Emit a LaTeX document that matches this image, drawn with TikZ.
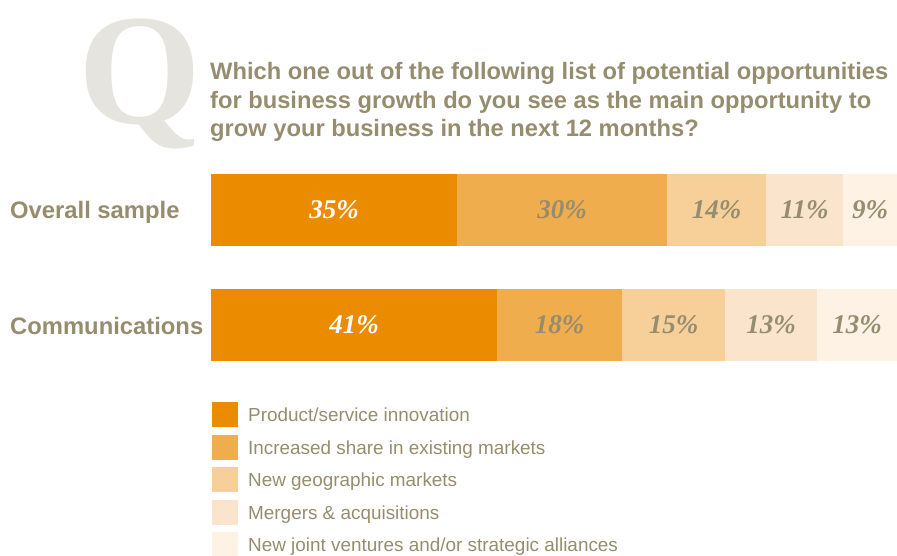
\documentclass[tikz,border=0pt]{standalone}
\usepackage{fontspec}
\setmainfont{Liberation Sans}
\newfontfamily\serifQ{Liberation Serif}
\definecolor{cA}{RGB}{235,140,0}
\definecolor{cB}{RGB}{239,173,77}
\definecolor{cC}{RGB}{247,207,152}
\definecolor{cD}{RGB}{250,229,204}
\definecolor{cE}{RGB}{253,242,228}
\definecolor{txt}{RGB}{150,140,110}
\definecolor{qgray}{RGB}{230,228,222}
\tikzset{
  seg/.style={draw=none,inner sep=0pt,outer sep=0pt,anchor=north west},
  pct/.style={font=\serifQ\bfseries\itshape\fontsize{27}{27}\selectfont,text=txt},
  pctw/.style={pct,text=white},
  rowlab/.style={anchor=base west,inner sep=0pt,font=\bfseries\fontsize{23.8}{23.8}\selectfont,text=txt},
  title/.style={anchor=base west,inner sep=0pt,font=\bfseries\fontsize{23.7}{23.7}\selectfont,text=txt},
  legbox/.style={inner sep=0pt,outer sep=0pt,minimum width=26pt,minimum height=25pt,anchor=north west},
  legtxt/.style={anchor=base west,inner sep=0pt,font=\fontsize{18.9}{18.9}\selectfont,text=txt}
}
\begin{document}
\begin{tikzpicture}[x=1pt,y=-1pt]
\useasboundingbox (0,0) rectangle (897,556);
% big Q
\node[anchor=base west,inner sep=0pt,text=qgray,font=\serifQ\bfseries\fontsize{158}{158}\selectfont] (q) at (78,124) {Q};
% title
\node[title] (t1) at (210,80) {Which one out of the following list of potential opportunities};
\node[title] (t2) at (210,108.5) {for business growth do you see as the main opportunity to};
\node[title] (t3) at (210,137) {grow your business in the next 12 months?};
% row labels
\node[rowlab] (r1) at (10,219) {Overall sample};
\node[rowlab] (r2) at (10,334) {Communications};
% bar 1
\node[seg,fill=cA,minimum width=246pt,minimum height=72pt] (a1) at (211,174) {};
\node[seg,fill=cB,minimum width=210pt,minimum height=72pt] (b1) at (457,174) {};
\node[seg,fill=cC,minimum width=99pt,minimum height=72pt] (c1) at (667,174) {};
\node[seg,fill=cD,minimum width=77pt,minimum height=72pt] (d1) at (766,174) {};
\node[seg,fill=cE,minimum width=54pt,minimum height=72pt] (e1) at (843,174) {};
\node[pctw] at (a1.center) {35\%};
\node[pct] at (b1.center) {30\%};
\node[pct] at (c1.center) {14\%};
\node[pct] at (d1.center) {11\%};
\node[pct] at (e1.center) {9\%};
% bar 2
\node[seg,fill=cA,minimum width=286pt,minimum height=72pt] (a2) at (211,289) {};
\node[seg,fill=cB,minimum width=125pt,minimum height=72pt] (b2) at (497,289) {};
\node[seg,fill=cC,minimum width=103pt,minimum height=72pt] (c2) at (622,289) {};
\node[seg,fill=cD,minimum width=92pt,minimum height=72pt] (d2) at (725,289) {};
\node[seg,fill=cE,minimum width=80pt,minimum height=72pt] (e2) at (817,289) {};
\node[pctw] at (a2.center) {41\%};
\node[pct] at (b2.center) {18\%};
\node[pct] at (c2.center) {15\%};
\node[pct] at (d2.center) {13\%};
\node[pct] at (e2.center) {13\%};
% legend
\node[legbox,fill=cA] (l1) at (212,402) {};
\node[legbox,fill=cB] (l2) at (212,434.5) {};
\node[legbox,fill=cC] (l3) at (212,467) {};
\node[legbox,fill=cD] (l4) at (212,499.5) {};
\node[legbox,fill=cE] (l5) at (212,532) {};
\node[legtxt] at (248,421.5) {Product/service innovation};
\node[legtxt] at (248,454) {Increased share in existing markets};
\node[legtxt] at (248,486.5) {New geographic markets};
\node[legtxt] at (248,519) {Mergers \& acquisitions};
\node[legtxt] at (248,551.5) {New joint ventures and/or strategic alliances};
\end{tikzpicture}
\end{document}
